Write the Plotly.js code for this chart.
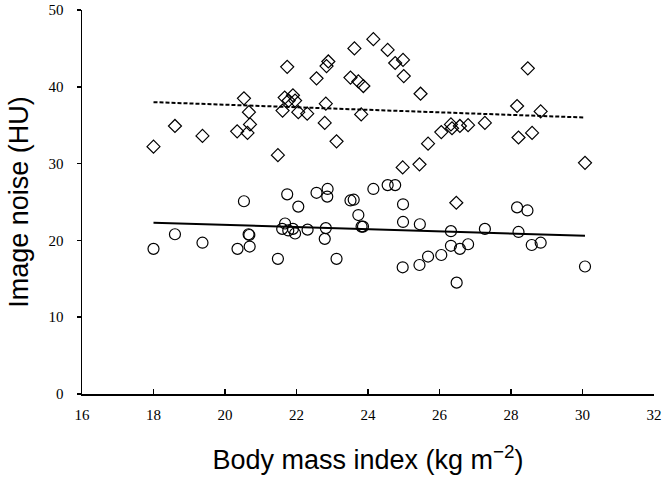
<!DOCTYPE html>
<html>
<head>
<meta charset="utf-8">
<script src="https://cdn.plot.ly/plotly-3.0.1.min.js"></script>
<style>html,body{margin:0;padding:0;background:#fff;}#chart{width:664px;height:479px;}</style>
</head>
<body>
<div id="chart"></div>
<script>
// Upper group (open diamonds)
var diamondBMI = [18.0,18.6,19.37,20.34,20.53,20.63,20.67,20.70,21.48,21.61,21.67,21.74,21.78,21.9,21.96,22.05,22.3,22.56,22.79,22.82,22.84,22.89,23.12,23.51,23.62,23.73,23.81,23.87,24.15,24.55,24.76,24.97,24.98,25.0,25.44,25.47,25.68,26.05,26.32,26.35,26.47,26.57,26.8,27.27,28.17,28.21,28.47,28.59,28.83,30.07];
var diamondNoise = [32.2,34.9,33.6,34.2,38.5,34.0,36.7,35.1,31.1,36.9,38.6,42.6,38.2,38.9,38.2,36.7,36.5,41.1,35.3,37.8,42.7,43.3,32.9,41.2,45.0,40.7,36.4,40.1,46.2,44.8,43.1,29.5,43.5,41.4,29.9,39.1,32.6,34.1,35.1,34.6,24.9,34.9,35.0,35.3,37.5,33.4,42.4,34.0,36.8,30.1];
// Lower group (open circles)
var circleBMI = [18.0,18.6,19.37,20.35,20.53,20.66,20.68,20.69,21.48,21.6,21.68,21.74,21.77,21.9,21.96,22.05,22.31,22.56,22.79,22.82,22.86,22.87,23.12,23.51,23.6,23.73,23.82,23.86,24.15,24.55,24.76,24.97,24.98,24.98,25.44,25.45,25.68,26.05,26.32,26.32,26.48,26.57,26.8,27.27,28.17,28.21,28.46,28.58,28.83,30.07];
var circleNoise = [18.9,20.8,19.7,18.9,25.1,20.8,20.7,19.2,17.6,21.5,22.2,26.0,21.3,21.5,20.9,24.4,21.4,26.2,20.2,21.6,25.7,26.7,17.6,25.2,25.3,23.3,21.8,21.8,26.7,27.2,27.2,16.5,24.7,22.4,16.8,22.1,17.9,18.1,21.2,19.3,14.5,18.9,19.5,21.5,24.3,21.1,23.9,19.4,19.7,16.6];
// Fit lines
var fitBMI = [18.0, 30.07];
var diamondFit = [38.0, 36.0];
var circleFit = [22.3, 20.6];
// Axis ticks
var xTicks = [16,18,20,22,24,26,28,30,32];
var yTicks = [0,10,20,30,40,50];

var traces = [
  {x: fitBMI, y: diamondFit, mode: 'lines', line: {color: '#000', width: 2, dash: '4px,2px'}, hoverinfo: 'skip'},
  {x: fitBMI, y: circleFit, mode: 'lines', line: {color: '#000', width: 2}, hoverinfo: 'skip'},
  {x: diamondBMI, y: diamondNoise, mode: 'markers', marker: {symbol: 'diamond-open', size: 10, color: '#000', line: {width: 1.2, color: '#000'}}},
  {x: circleBMI, y: circleNoise, mode: 'markers', marker: {symbol: 'circle-open', size: 11, color: '#000', line: {width: 1.2, color: '#000'}}}
];

var layout = {
  width: 664, height: 479,
  paper_bgcolor: '#fff', plot_bgcolor: '#fff',
  showlegend: false,
  margin: {l: 82, r: 10, t: 9.5, b: 85, autoexpand: false},
  xaxis: {
    range: [16, 32], tickvals: xTicks, ticktext: xTicks.map(String),
    showgrid: false, zeroline: false, showline: true, linecolor: '#000', linewidth: 2,
    ticks: 'inside', ticklen: 5, tickwidth: 1.5, tickcolor: '#000',
    tickfont: {family: 'Liberation Serif', size: 15, color: '#000'},
    ticklabelstandoff: 6,
    title: {text: 'Body mass index (kg m<sup>−2</sup>)', font: {family: 'Liberation Sans', size: 27, color: '#000'}, standoff: 28},
    automargin: false
  },
  yaxis: {
    range: [0, 50], tickvals: yTicks, ticktext: yTicks.map(String),
    showgrid: false, zeroline: false, showline: true, linecolor: '#000', linewidth: 1.5,
    ticks: 'outside', ticklen: 4, tickwidth: 1.5, tickcolor: '#000',
    tickfont: {family: 'Liberation Serif', size: 15, color: '#000'},
    ticklabelstandoff: 10,
    title: {text: 'Image noise (HU)', font: {family: 'Liberation Sans', size: 27, color: '#000'}, standoff: 12},
    automargin: false
  }
};
Plotly.newPlot('chart', traces, layout, {staticPlot: true, displayModeBar: false});
</script>
</body>
</html>
